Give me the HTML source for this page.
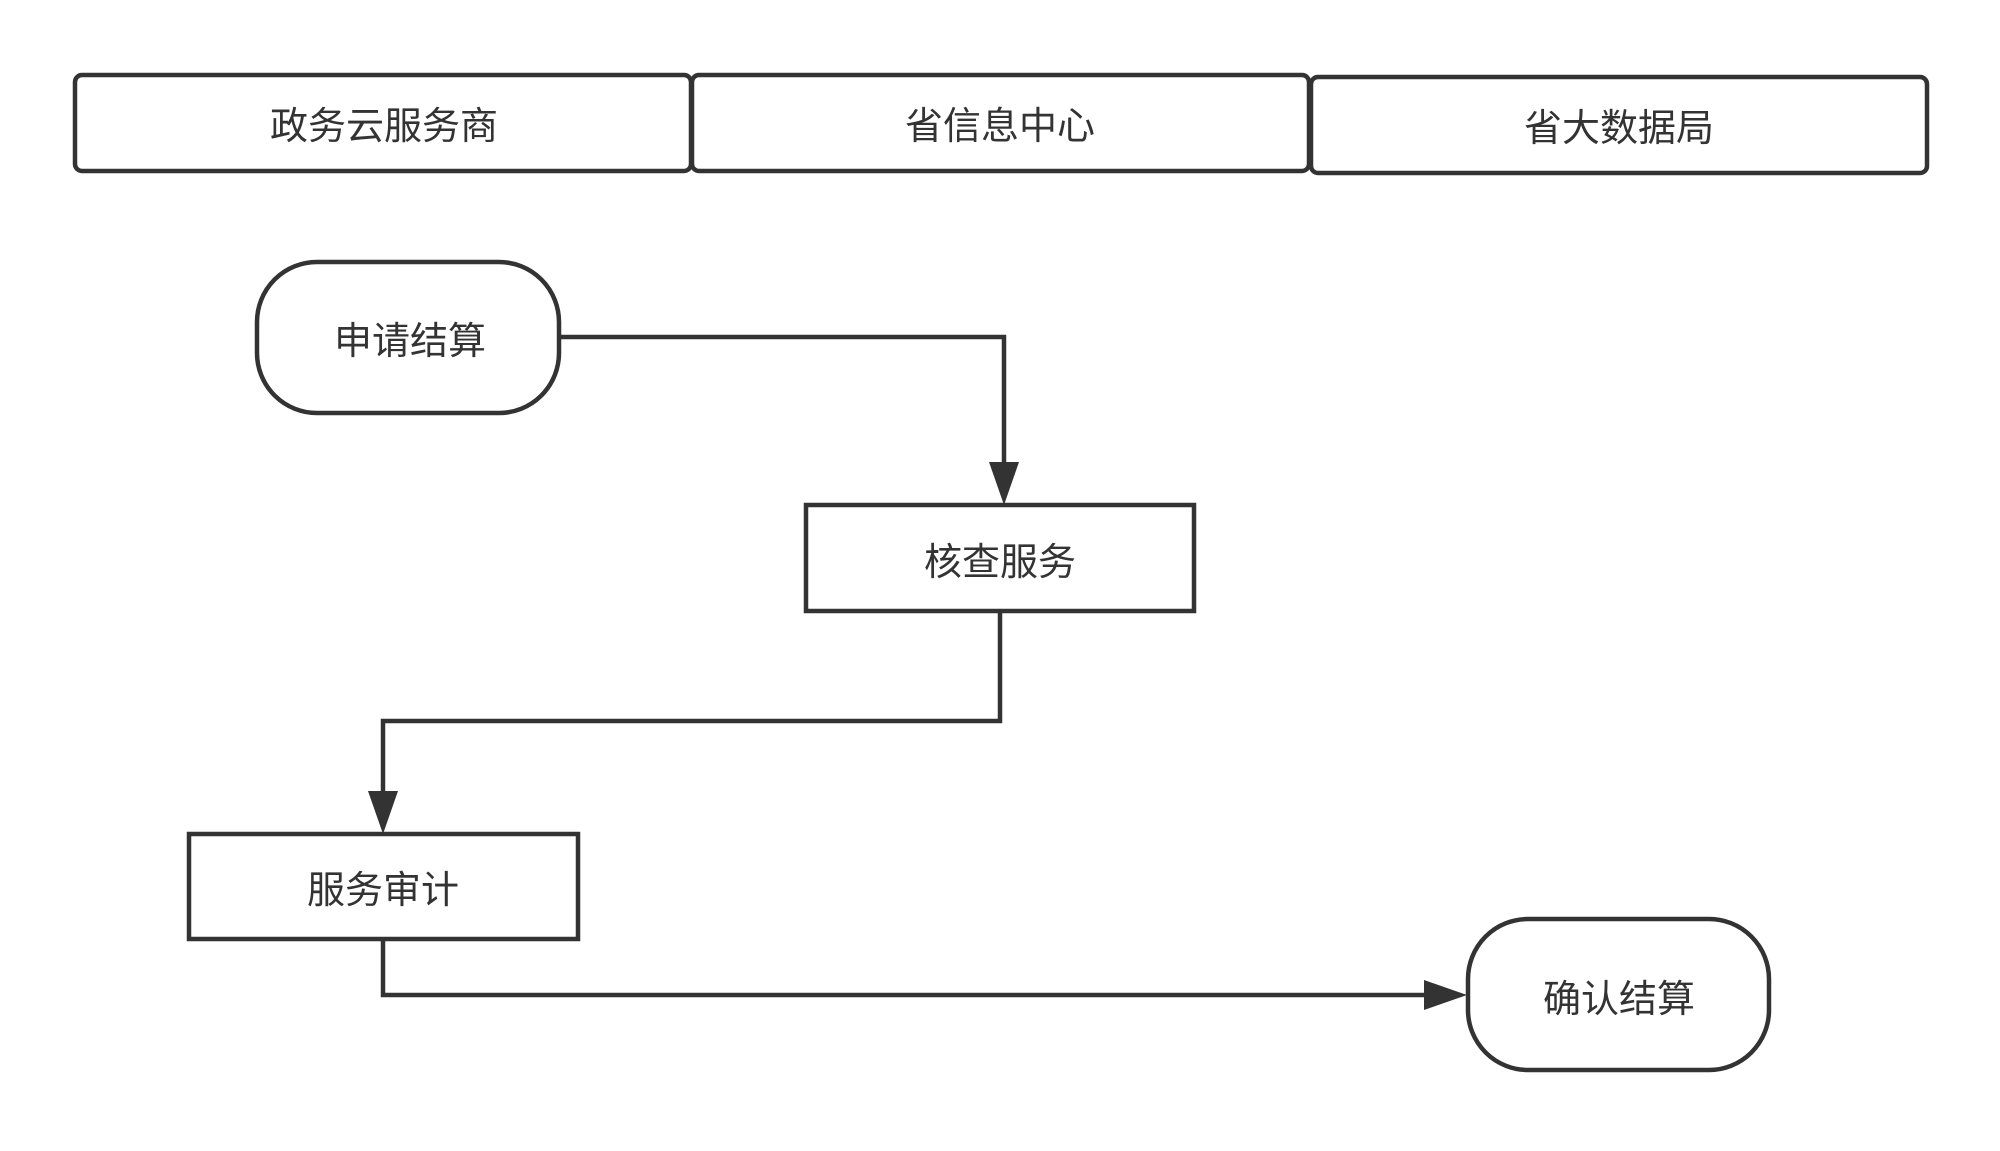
<!DOCTYPE html>
<html><head><meta charset="utf-8"><style>
html,body{margin:0;padding:0;background:#fff;}
svg text{font-family:"Liberation Sans","Noto Sans CJK SC",sans-serif;font-size:38px;fill:#333;text-anchor:middle;dominant-baseline:central;}
</style></head><body>
<svg width="2000" height="1146" viewBox="0 0 2000 1146" xmlns="http://www.w3.org/2000/svg">
<g fill="none" stroke="#333" stroke-width="4.5">
<rect x="75" y="75" width="616" height="96" rx="7"/>
<rect x="692" y="75" width="617" height="96" rx="7"/>
<rect x="1311" y="77" width="616" height="96" rx="7"/>
<rect x="257" y="262" width="302" height="151" rx="60"/>
<rect x="806" y="505" width="388" height="106"/>
<rect x="189" y="834" width="389" height="105"/>
<rect x="1468" y="919" width="301" height="151" rx="60"/>
<polyline points="559,337 1004,337 1004,470"/>
<polyline points="1000,611 1000,721 383,721 383,800"/>
<polyline points="383,939 383,995 1430,995"/>
</g>
<g fill="#333">
<polygon points="989,462 1019,462 1004,505"/>
<polygon points="368,791 398,791 383,834"/>
<polygon points="1424,980 1424,1010 1467,995"/>
</g>
<text x="384" y="127">政务云服务商</text>
<text x="1000" y="127">省信息中心</text>
<text x="1619" y="129">省大数据局</text>
<text x="410" y="342">申请结算</text>
<text x="1000" y="563">核查服务</text>
<text x="383" y="891">服务审计</text>
<text x="1619" y="1000">确认结算</text>
</svg>
</body></html>
